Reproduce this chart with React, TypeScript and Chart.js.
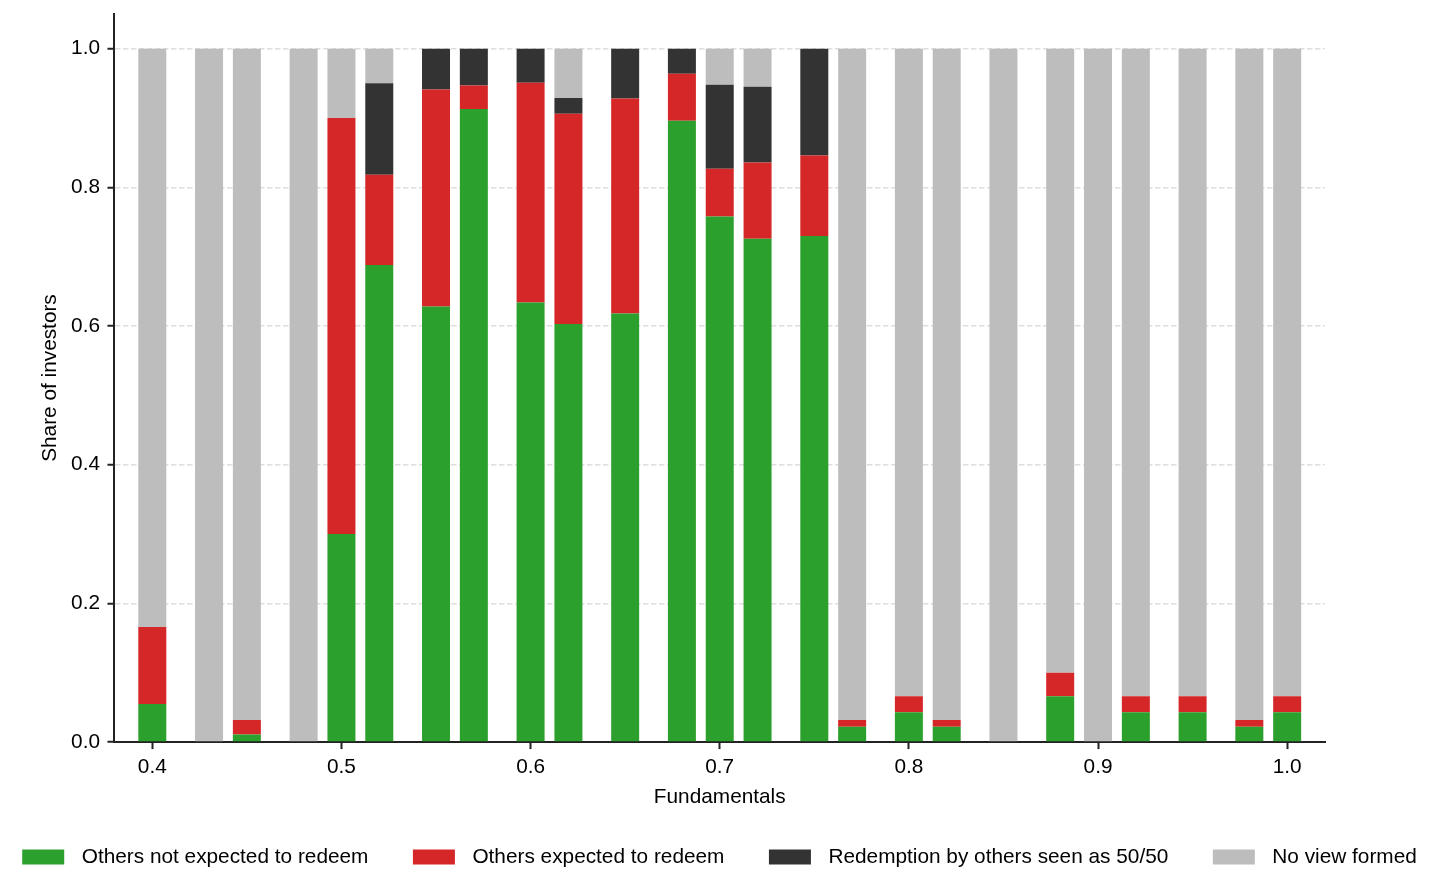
import React, { useEffect, useRef } from 'react';
import { Chart, registerables } from 'chart.js';

Chart.register(...registerables);

// fundamentals level of each bar
const fundamentals = [
  0.4, 0.43, 0.45, 0.48, 0.5, 0.52, 0.55, 0.57, 0.6, 0.62, 0.65, 0.68, 0.7,
  0.72, 0.75, 0.77, 0.8, 0.82, 0.85, 0.88, 0.9, 0.92, 0.95, 0.98, 1.0,
];

// share of investors per belief (segments stack to 1)
const notExpected = [
  0.055, 0, 0.011, 0, 0.3, 0.688, 0.628, 0.913, 0.634, 0.603, 0.618, 0.896, 0.758,
  0.726, 0.73, 0.022, 0.043, 0.022, 0, 0.066, 0, 0.043, 0.043, 0.022, 0.043,
];
const expected = [
  0.111, 0, 0.021, 0, 0.6, 0.13, 0.313, 0.034, 0.317, 0.303, 0.31, 0.068, 0.069,
  0.11, 0.116, 0.01, 0.023, 0.01, 0, 0.034, 0, 0.023, 0.023, 0.01, 0.023,
];
const fiftyFifty = [
  0, 0, 0, 0, 0, 0.132, 0.059, 0.053, 0.049, 0.023, 0.072, 0.036, 0.121,
  0.109, 0.154, 0, 0, 0, 0, 0, 0, 0, 0, 0, 0,
];
const noView = [
  0.834, 1, 0.968, 1, 0.1, 0.05, 0, 0, 0, 0.071, 0, 0, 0.052,
  0.055, 0, 0.968, 0.934, 0.968, 1, 0.9, 1, 0.934, 0.934, 0.968, 0.934,
];

const seriesLabels = [
  'Others not expected to redeem',
  'Others expected to redeem',
  'Redemption by others seen as 50/50',
  'No view formed',
];
const seriesColors = ['#2ca02c', '#d62728', '#333333', '#bdbdbd'];

const xTicks = [0.4, 0.5, 0.6, 0.7, 0.8, 0.9, 1.0];
const yTicks = [0, 0.2, 0.4, 0.6, 0.8, 1.0];

const FONT = "'Liberation Sans', Arial, Helvetica, sans-serif";
const FONT_SIZE = 20.8;

// legend drawn under the x axis title, spread like the original
const bottomLegend = {
  id: 'bottomLegend',
  afterDraw(chart: Chart) {
    const { ctx } = chart;
    const boxW = 42;
    const boxH = 15;
    const textGap = 17.5;
    const itemGap = 44.5;
    ctx.save();
    ctx.font = `${FONT_SIZE}px ${FONT}`;
    const items = chart.data.datasets.map((ds) => {
      const label = String(ds.label);
      return {
        label,
        color: ds.backgroundColor as string,
        w: boxW + textGap + ctx.measureText(label).width,
      };
    });
    const total = items.reduce((s, it) => s + it.w, 0) + itemGap * (items.length - 1);
    let x = (chart.width - total) / 2;
    const cy = chart.height - 34;
    ctx.textBaseline = 'middle';
    ctx.textAlign = 'left';
    items.forEach((it) => {
      ctx.fillStyle = it.color;
      ctx.fillRect(x, cy - boxH / 2, boxW, boxH);
      ctx.fillStyle = '#000';
      ctx.fillText(it.label, x + boxW + textGap, cy);
      x += it.w + itemGap;
    });
    ctx.restore();
  },
};

const App: React.FC = () => {
  const canvasRef = useRef<HTMLCanvasElement>(null);
  const chartRef = useRef<Chart | null>(null);

  useEffect(() => {
    if (!canvasRef.current) return;
    if (chartRef.current) chartRef.current.destroy();

    Chart.defaults.font.family = FONT;
    Chart.defaults.font.size = FONT_SIZE;
    Chart.defaults.color = '#000';

    const series = [notExpected, expected, fiftyFifty, noView];

    chartRef.current = new Chart(canvasRef.current, {
      type: 'bar',
      data: {
        datasets: series.map((values, i) => ({
          label: seriesLabels[i],
          data: values.map((v, j) => ({ x: fundamentals[j], y: v })),
          backgroundColor: seriesColors[i],
          borderWidth: 0,
          inflateAmount: 0,
          barThickness: 28,
        })),
      },
      options: {
        responsive: true,
        maintainAspectRatio: false,
        animation: false,
        layout: {
          padding: { left: 37.5, right: 114, top: 14, bottom: 79 },
        },
        plugins: {
          legend: { display: false },
          tooltip: { enabled: false },
        },
        scales: {
          x: {
            type: 'linear',
            min: 0.38,
            max: 1.02,
            stacked: true,
            offset: false,
            afterBuildTicks: (scale) => {
              scale.ticks = xTicks.map((value) => ({ value }));
            },
            afterFit: (scale) => {
              scale.paddingLeft = 0;
              scale.paddingRight = 0;
            },
            grid: {
              offset: false,
              drawOnChartArea: false,
              tickLength: 7,
              tickWidth: 2,
              tickColor: '#222',
              color: '#222',
            },
            border: { color: '#222', width: 2 },
            ticks: {
              padding: 5.5,
              maxRotation: 0,
              autoSkip: false,
              color: '#000',
              callback: (v) => Number(v).toFixed(1),
            },
            title: {
              display: true,
              text: 'Fundamentals',
              color: '#000',
              padding: { top: 0, bottom: 2 },
            },
          },
          y: {
            min: 0,
            max: 1.05,
            stacked: true,
            afterBuildTicks: (scale) => {
              scale.ticks = yTicks.map((value) => ({ value }));
            },
            afterFit: (scale) => {
              scale.paddingTop = 0;
              scale.paddingBottom = 0;
            },
            grid: {
              color: '#dedede',
              lineWidth: 1.5,
              tickLength: 7,
              tickWidth: 2,
              tickColor: '#222',
            },
            border: { color: '#222', width: 2, dash: [5.5, 2.5] },
            ticks: {
              padding: 7.5,
              color: '#000',
              callback: (v) => Number(v).toFixed(1),
            },
            title: {
              display: true,
              text: 'Share of investors',
              color: '#000',
              padding: { top: 0.5, bottom: 0.6 },
            },
          },
        },
      },
      plugins: [bottomLegend],
    });

    return () => {
      if (chartRef.current) {
        chartRef.current.destroy();
        chartRef.current = null;
      }
    };
  }, []);

  return (
    <div style={{ position: 'absolute', left: 0, top: 0, width: 1439, height: 891, background: '#fff' }}>
      <canvas ref={canvasRef} />
    </div>
  );
};

export default App;
